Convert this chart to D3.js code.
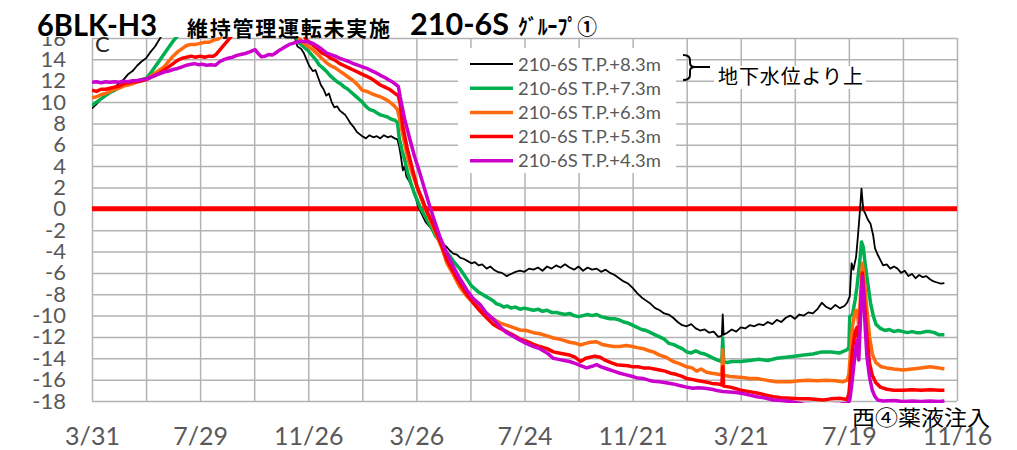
<!DOCTYPE html>
<html>
<head>
<meta charset="utf-8">
<script src="https://cdn.jsdelivr.net/npm/d3@7"></script>
<style>
  html, body { margin: 0; padding: 0; background: #fff; }
  svg { display: block; }
</style>
</head>
<body>
<svg id="chart" width="1017" height="450"></svg>
<script>
// ---------------- DATA ----------------
const startDate = "2016-03-31";
const endDate = "2018-11-16";
const xTickDays = [0, 60, 120, 180, 240, 300, 360, 420, 480, 540, 600, 660, 720, 780, 840, 900, 960];
const xLabels = ["3/31", "7/29", "11/26", "3/26", "7/24", "11/21", "3/21", "7/19", "11/16"];
const yTicks = [-18, -16, -14, -12, -10, -8, -6, -4, -2, 0, 2, 4, 6, 8, 10, 12, 14, 16];
const yLabels = ["-18", "-16", "-14", "-12", "-10", "-8", "-6", "-4", "-2", "0", "2", "4", "6", "8", "10", "12", "14", "16"];
const seriesNames = ["210-6S T.P.+8.3m", "210-6S T.P.+7.3m", "210-6S T.P.+6.3m", "210-6S T.P.+5.3m", "210-6S T.P.+4.3m"];

// [day offset from startDate, value]
const tp83 = [[0,9.4],[5,9.8],[10,10.3],[15,10.6],[20,11.0],[25,11.3],[30,11.8],[35,12.1],[40,12.6],[45,12.9],[50,13.4],[55,13.8],[60,14.1],[65,14.7],[70,15.2],[75,15.9],[80,16.6],[100,18],[150,19],[200,18.5],[222,17],[228,15.2],[232,15.0],[235,14.6],[238,14.0],[241,13.4],[245,12.9],[248,13.0],[251,12.3],[254,11.6],[257,11.2],[260,10.6],[263,10.8],[266,10.0],[269,9.5],[272,9.6],[275,9.2],[278,9.0],[281,8.8],[284,8.4],[287,8.0],[290,7.7],[294,7.2],[297,7.0],[300,6.8],[304,6.6],[308,6.9],[312,6.7],[316,6.8],[320,6.6],[324,6.9],[328,6.7],[332,6.8],[336,6.6],[339,6.5],[341,5.8],[343,4.8],[345,3.6],[347,4.0],[349,3.0],[352,2.6],[356,1.8],[360,0.8],[362,0.2],[366,-0.5],[370,-1.2],[374,-1.6],[378,-2.0],[383,-2.6],[386,-2.9],[390,-3.3],[394,-3.6],[397,-3.9],[401,-4.2],[405,-4.3],[409,-4.6],[413,-4.7],[417,-4.9],[421,-5.1],[425,-5.0],[429,-5.3],[433,-5.2],[438,-5.6],[442,-5.4],[446,-5.7],[450,-5.9],[455,-6.0],[460,-6.3],[465,-6.1],[470,-5.9],[475,-5.8],[480,-5.9],[485,-5.6],[490,-5.7],[495,-5.5],[500,-5.8],[505,-5.4],[510,-5.6],[515,-5.3],[520,-5.5],[525,-5.2],[530,-5.5],[535,-5.7],[540,-5.4],[545,-5.8],[550,-5.5],[555,-5.7],[560,-5.6],[565,-5.9],[570,-5.7],[575,-6.0],[580,-6.2],[585,-6.5],[590,-6.8],[595,-7.0],[600,-7.4],[605,-7.9],[610,-8.3],[615,-8.6],[620,-8.9],[625,-9.3],[630,-9.5],[635,-9.8],[640,-9.9],[645,-10.2],[650,-10.6],[655,-10.9],[660,-11.0],[665,-10.8],[670,-11.2],[675,-11.4],[680,-11.3],[685,-11.6],[690,-11.5],[695,-12.0],[699,-11.9],[700,-9.9],[701,-11.8],[705,-11.6],[710,-11.3],[715,-11.5],[720,-11.1],[725,-11.2],[730,-10.9],[735,-11.0],[740,-10.8],[745,-10.9],[750,-10.6],[755,-10.8],[760,-10.4],[765,-10.6],[770,-10.2],[775,-10.0],[780,-10.3],[785,-9.9],[790,-10.0],[795,-9.7],[800,-9.8],[805,-9.4],[810,-8.8],[815,-9.2],[820,-9.4],[825,-9.0],[830,-9.3],[835,-9.1],[838,-8.8],[841,-8.2],[843,-5.1],[845,-5.7],[848,-4.5],[850,-2.6],[852,-0.5],[854,1.9],[856,-0.1],[858,-0.4],[861,-1.0],[864,-1.4],[867,-2.5],[869,-3.7],[872,-4.3],[875,-4.8],[878,-5.3],[882,-5.2],[886,-5.6],[890,-5.4],[894,-5.6],[898,-6.0],[902,-5.8],[906,-6.3],[910,-6.1],[914,-6.5],[918,-6.2],[922,-6.4],[926,-6.3],[930,-6.6],[934,-6.8],[938,-6.9],[942,-7.0],[946,-6.95]];

const tp73 = [[0,9.7],[5,10.0],[10,10.3],[15,10.6],[20,10.9],[25,11.1],[30,11.4],[35,11.6],[40,11.7],[45,11.9],[50,12.0],[55,12.1],[60,12.2],[65,12.7],[70,13.3],[75,13.9],[80,14.5],[85,15.1],[90,15.7],[94,16.1],[100,16.8],[150,18],[200,18],[225,16.5],[229,15.6],[232,15.4],[236,15.1],[240,14.8],[244,14.4],[248,14.0],[252,13.5],[256,13.2],[260,12.9],[264,12.5],[268,12.2],[272,11.9],[276,11.7],[280,11.4],[284,11.2],[288,10.9],[292,10.6],[296,10.3],[300,10.0],[304,9.6],[308,9.3],[312,9.2],[316,9.0],[320,8.8],[324,8.7],[328,8.6],[332,8.4],[336,8.3],[339,8.1],[341,6.6],[344,5.5],[347,4.6],[350,3.5],[354,2.4],[358,1.4],[361,0.8],[365,0.0],[369,-0.6],[373,-1.2],[377,-1.8],[381,-2.5],[385,-2.9],[389,-3.5],[393,-4.0],[397,-4.4],[401,-4.9],[405,-5.3],[409,-5.7],[413,-6.2],[417,-6.7],[421,-7.2],[425,-7.5],[429,-7.8],[433,-8.0],[437,-8.2],[441,-8.4],[445,-8.6],[449,-8.9],[453,-9.0],[457,-9.2],[461,-9.1],[465,-9.3],[470,-9.2],[475,-9.4],[480,-9.3],[485,-9.4],[490,-9.5],[495,-9.4],[500,-9.6],[505,-9.5],[510,-9.7],[515,-9.7],[520,-9.8],[525,-9.9],[530,-9.8],[535,-10.0],[540,-10.1],[545,-10.0],[550,-9.9],[555,-10.0],[560,-9.9],[565,-10.1],[570,-10.2],[575,-10.3],[580,-10.3],[585,-10.4],[590,-10.6],[595,-10.7],[600,-10.9],[605,-11.1],[610,-11.3],[615,-11.4],[620,-11.6],[625,-11.8],[630,-12.0],[635,-12.2],[640,-12.6],[645,-12.7],[650,-12.9],[655,-13.1],[660,-13.4],[665,-13.5],[670,-13.3],[675,-13.5],[680,-13.6],[685,-13.8],[690,-14.0],[695,-14.2],[699,-14.3],[700,-12.1],[701,-14.3],[705,-14.4],[710,-14.3],[720,-14.3],[730,-14.2],[740,-14.1],[750,-14.2],[760,-14.0],[770,-13.9],[780,-13.8],[790,-13.7],[800,-13.6],[810,-13.4],[820,-13.4],[830,-13.5],[838,-13.2],[840,-13.0],[841,-10.1],[844,-9.9],[847,-8.5],[849,-7.3],[852,-5.0],[854,-3.1],[856,-3.6],[858,-5.1],[861,-7.0],[864,-8.8],[867,-10.0],[870,-10.8],[875,-11.2],[880,-11.4],[885,-11.3],[890,-11.5],[895,-11.4],[900,-11.5],[905,-11.6],[910,-11.5],[915,-11.6],[920,-11.6],[925,-11.5],[930,-11.5],[935,-11.6],[940,-11.8],[946,-11.8]];

const tp63 = [[0,10.4],[5,10.5],[10,10.7],[15,10.8],[20,11.0],[25,11.2],[30,11.3],[35,11.5],[40,11.6],[45,11.7],[50,11.9],[55,12.0],[60,12.1],[65,12.4],[70,12.7],[75,13.0],[80,13.3],[85,13.8],[90,14.3],[95,14.7],[100,15.0],[105,15.3],[110,15.4],[115,15.4],[120,15.5],[125,15.6],[130,15.6],[135,15.8],[140,15.9],[144,16.2],[150,17],[200,17.5],[228,16.3],[231,15.8],[235,15.5],[240,15.2],[245,14.9],[250,14.5],[255,14.1],[260,13.7],[265,13.4],[270,13.2],[275,12.9],[280,12.6],[285,12.3],[290,12.0],[295,11.6],[300,11.1],[305,11.0],[310,10.8],[316,10.6],[320,10.5],[327,10.2],[332,9.9],[336,9.6],[339,9.3],[342,8.2],[346,6.5],[350,4.9],[355,3.4],[361,2.0],[366,0.8],[372,-0.4],[377,-1.4],[383,-2.6],[388,-3.6],[394,-5.1],[400,-6.0],[408,-7.3],[415,-8.1],[423,-8.8],[430,-9.3],[438,-9.8],[445,-10.3],[453,-10.7],[460,-10.9],[467,-11.1],[475,-11.35],[482,-11.4],[490,-11.6],[497,-11.7],[505,-11.9],[512,-12.1],[518,-12.2],[523,-12.3],[530,-12.5],[537,-12.6],[542,-12.75],[548,-12.6],[553,-12.5],[560,-12.45],[566,-12.7],[572,-12.8],[579,-12.9],[586,-12.9],[593,-12.8],[600,-12.9],[605,-13.0],[612,-13.1],[618,-13.3],[623,-13.4],[630,-13.7],[637,-13.9],[645,-14.3],[652,-14.5],[660,-14.8],[666,-14.9],[671,-15.2],[676,-15.0],[682,-15.3],[688,-15.4],[695,-15.5],[699,-15.55],[700,-13.2],[701,-15.6],[708,-15.7],[715,-15.75],[722,-15.8],[730,-15.9],[738,-15.9],[745,-16.0],[752,-16.1],[760,-16.2],[768,-16.2],[775,-16.2],[785,-16.1],[795,-16.05],[805,-16.1],[815,-16.05],[825,-16.1],[833,-16.2],[838,-16.05],[840,-15.5],[841,-14.4],[844,-11.0],[847,-9.6],[849,-9.5],[851,-11.0],[853,-8.0],[855,-5.1],[857,-6.5],[860,-9.5],[863,-12.0],[866,-13.6],[870,-14.4],[876,-14.8],[882,-14.9],[890,-15.0],[900,-15.1],[910,-15.0],[920,-14.9],[930,-14.8],[940,-14.9],[946,-15.0]];

const tp53 = [[0,11.1],[5,11.0],[10,11.2],[15,11.2],[20,11.3],[25,11.4],[30,11.5],[35,11.7],[40,11.8],[45,11.9],[50,11.9],[55,12.0],[60,12.1],[65,12.3],[70,12.5],[75,12.7],[80,13.0],[85,13.3],[90,13.6],[95,13.9],[100,14.1],[105,14.2],[110,14.3],[115,14.2],[120,14.3],[125,14.2],[130,14.3],[135,14.3],[138,14.5],[141,14.8],[144,15.1],[148,15.5],[152,15.9],[155,16.2],[170,17],[220,17],[236,16.2],[238,15.8],[241,15.6],[245,15.35],[250,15.0],[255,14.6],[260,14.4],[265,14.1],[270,13.9],[275,13.6],[280,13.4],[285,13.2],[290,13.0],[295,12.8],[300,12.6],[305,12.4],[310,12.2],[315,11.9],[320,11.6],[325,11.4],[330,11.2],[334,10.95],[338,10.7],[340,10.6],[342,9.8],[345,7.7],[350,5.6],[356,3.6],[361,2.0],[367,0.8],[372,-0.3],[378,-1.35],[386,-3.0],[394,-4.8],[401,-5.9],[408,-6.95],[415,-7.9],[423,-8.8],[430,-9.5],[438,-10.2],[445,-10.8],[453,-11.2],[460,-11.5],[467,-11.8],[475,-12.2],[482,-12.4],[490,-12.7],[497,-12.9],[505,-13.1],[512,-13.4],[518,-13.5],[524,-13.6],[530,-13.7],[536,-13.9],[542,-14.3],[548,-14.0],[553,-13.9],[558,-13.8],[564,-13.9],[570,-14.2],[576,-14.4],[582,-14.6],[588,-14.65],[595,-14.7],[600,-14.8],[606,-14.8],[612,-14.9],[618,-14.9],[624,-15.0],[630,-15.1],[636,-15.2],[642,-15.4],[648,-15.5],[655,-15.7],[660,-15.9],[667,-16.0],[673,-16.1],[680,-16.2],[688,-16.35],[695,-16.4],[699,-16.5],[700,-14.8],[701,-16.6],[708,-16.7],[715,-16.85],[720,-17.0],[728,-17.1],[738,-17.25],[746,-17.4],[756,-17.6],[765,-17.7],[775,-17.75],[785,-17.8],[795,-17.8],[805,-17.85],[812,-17.9],[820,-17.8],[830,-17.75],[838,-17.85],[840,-17.3],[841,-16.4],[844,-13.2],[847,-11.5],[849,-11.1],[851,-12.6],[853,-9.0],[855,-6.0],[857,-8.5],[860,-12.0],[863,-14.5],[866,-15.6],[870,-16.3],[875,-16.7],[882,-16.9],[890,-17.0],[900,-17.0],[910,-16.95],[920,-17.0],[930,-16.95],[940,-17.0],[946,-17.0]];

const tp43 = [[0,11.85],[5,11.9],[10,11.8],[15,11.9],[20,11.85],[25,11.9],[30,11.85],[35,11.95],[40,11.9],[45,12.0],[50,12.0],[55,12.1],[60,12.15],[65,12.3],[70,12.5],[75,12.65],[80,12.8],[85,12.9],[90,13.05],[95,13.15],[100,13.3],[105,13.45],[110,13.55],[114,13.6],[118,13.5],[122,13.55],[127,13.45],[132,13.5],[137,13.45],[142,13.8],[147,14.0],[151,14.1],[156,14.2],[160,14.35],[165,14.45],[170,14.55],[175,14.7],[181,14.9],[185,14.5],[188,14.25],[192,14.3],[196,14.45],[200,14.4],[203,14.55],[207,14.8],[211,15.0],[215,15.2],[219,15.4],[223,15.5],[228,15.65],[233,15.7],[238,15.65],[242,15.6],[245,15.5],[248,15.35],[251,15.2],[255,14.95],[258,14.75],[261,14.55],[265,14.45],[270,14.3],[275,14.1],[280,13.95],[285,13.8],[290,13.6],[295,13.45],[300,13.3],[305,13.15],[310,12.95],[315,12.75],[320,12.5],[325,12.3],[330,12.05],[334,11.85],[338,11.6],[340,11.45],[342,10.5],[347,8.4],[353,6.45],[358,4.9],[364,3.3],[370,1.6],[375,0.2],[380,-1.1],[386,-2.6],[393,-4.0],[401,-5.4],[408,-6.5],[416,-7.6],[423,-8.4],[431,-9.0],[438,-9.8],[445,-10.3],[453,-11.05],[460,-11.6],[467,-11.9],[475,-12.3],[482,-12.6],[490,-12.9],[497,-13.1],[505,-13.5],[512,-14.0],[518,-14.1],[524,-14.2],[530,-14.3],[537,-14.5],[543,-14.7],[549,-14.9],[555,-14.75],[560,-14.6],[565,-14.8],[572,-15.0],[579,-15.2],[586,-15.4],[593,-15.55],[600,-15.7],[605,-15.85],[612,-15.9],[618,-16.05],[623,-16.15],[630,-16.2],[637,-16.3],[645,-16.4],[652,-16.55],[660,-16.7],[667,-16.8],[673,-16.75],[680,-16.8],[688,-16.9],[695,-17.05],[700,-17.1],[708,-17.15],[715,-17.2],[722,-17.3],[730,-17.45],[738,-17.6],[746,-17.7],[756,-17.9],[765,-17.95],[775,-18.05],[790,-18.3],[810,-18.4],[830,-18.3],[839,-18.2],[841,-17.9],[843,-16.6],[845,-15.1],[847,-13.5],[849,-12.3],[851,-14.15],[853,-10.0],[855,-6.35],[857,-9.5],[860,-13.85],[863,-15.8],[866,-17.0],[869,-17.6],[872,-17.9],[878,-18.0],[890,-17.95],[900,-18.05],[910,-18.0],[920,-18.05],[930,-18.0],[940,-18.05],[946,-18.0]];

const seriesData = [tp83, tp73, tp63, tp53, tp43];
const seriesColors = ["#000000", "#00b050", "#ff6a0e", "#ff0000", "#cc00cc"];
const seriesWidths = [1.8, 3.5, 3.5, 3.5, 3.5];

// ---------------- CHART ----------------
const svg = d3.select("#chart");
const W = 1017, H = 450;
const m = { left: 92, right: 957, top: 38, bottom: 401 };
const labelFont = "Lato, 'Open Sans', 'Liberation Sans', sans-serif";
const cjkFont = "'Noto Sans CJK JP', 'Noto Sans CJK SC', sans-serif";

const t0 = d3.utcParse("%Y-%m-%d")(startDate);
const t1 = d3.utcParse("%Y-%m-%d")(endDate);
const toDate = d => d3.utcDay.offset(t0, d);

const x = d3.scaleUtc().domain([t0, t1]).range([m.left, m.right]);
const y = d3.scaleLinear().domain([-18, 16]).range([m.bottom, m.top]);

svg.append("rect").attr("width", W).attr("height", H).attr("fill", "#fff");

const gridColor = "#b3b3b3";
// horizontal gridlines
svg.append("g")
  .attr("transform", `translate(${m.left},0)`)
  .call(d3.axisLeft(y).tickValues(yTicks).tickSize(-(m.right - m.left)).tickFormat(""))
  .call(g => g.select(".domain").remove())
  .call(g => g.selectAll("line").attr("stroke", gridColor).attr("stroke-width", 1.5));
// vertical gridlines
const xGridDates = xTickDays.map(toDate);
svg.append("g")
  .attr("transform", `translate(0,${m.bottom})`)
  .call(d3.axisBottom(x).tickValues(xGridDates).tickSize(-(m.bottom - m.top)).tickFormat(""))
  .call(g => g.select(".domain").remove())
  .call(g => g.selectAll("line").attr("stroke", gridColor).attr("stroke-width", 1.5));

// y labels
svg.append("g")
  .attr("transform", `translate(${m.left},0)`)
  .call(d3.axisLeft(y).tickValues(yTicks).tickSize(0).tickPadding(26).tickFormat((d, i) => yLabels[i]))
  .call(g => g.select(".domain").remove())
  .call(g => g.selectAll("text").attr("fill", "#595959").style("font-family", labelFont).style("font-size", "22px"));

// x labels
const xLabelDates = xTickDays.filter((d, i) => i % 2 === 0).map(toDate);
svg.append("g")
  .attr("transform", `translate(0,${m.bottom})`)
  .call(d3.axisBottom(x).tickValues(xLabelDates).tickSize(0).tickFormat((d, i) => xLabels[i]))
  .call(g => g.select(".domain").remove())
  .call(g => g.selectAll("text").attr("fill", "#595959").attr("y", 44).attr("dy", 0)
      .style("font-family", labelFont).style("font-size", "25px"));

// zero line
svg.append("line")
  .attr("x1", m.left).attr("x2", m.right)
  .attr("y1", y(0)).attr("y2", y(0))
  .attr("stroke", "#ff0000").attr("stroke-width", 5);

// clip
svg.append("clipPath").attr("id", "plotclip")
  .append("rect").attr("x", m.left).attr("y", m.top - 1)
  .attr("width", m.right - m.left + 2).attr("height", m.bottom - m.top + 3);

const line = d3.line().x(d => x(toDate(d[0]))).y(d => y(d[1]));
const gLines = svg.append("g").attr("clip-path", "url(#plotclip)");
seriesData.forEach((data, i) => {
  gLines.append("path")
    .datum(data)
    .attr("fill", "none")
    .attr("stroke", seriesColors[i])
    .attr("stroke-width", seriesWidths[i])
    .attr("stroke-linejoin", "round")
    .attr("d", line);
});

// legend
const lg = svg.append("g");
lg.append("rect").attr("x", 458).attr("y", 48).attr("width", 218).attr("height", 125).attr("fill", "#fff");
seriesNames.forEach((name, i) => {
  const cy = 64 + i * 24.2;
  lg.append("line").attr("x1", 470).attr("x2", 513).attr("y1", cy).attr("y2", cy)
    .attr("stroke", seriesColors[i]).attr("stroke-width", i === 0 ? 2 : 3.5);
  lg.append("text").attr("x", 518).attr("y", cy + 6.5).text(name)
    .attr("fill", "#595959").style("font-family", labelFont).style("font-size", "17px")
    .attr("textLength", 143).attr("lengthAdjust", "spacingAndGlyphs");
});

// title area (white box)
svg.append("rect").attr("x", 30).attr("y", 0).attr("width", 575).attr("height", 37).attr("fill", "#fff");
svg.append("text").attr("x", 37).attr("y", 36).text("6BLK-H3")
  .style("font-family", labelFont).style("font-weight", "bold").style("font-size", "31px")
  .attr("textLength", 120).attr("lengthAdjust", "spacingAndGlyphs").attr("fill", "#000");
svg.append("text").attr("x", 187).attr("y", 35.5).text("維持管理運転未実施")
  .style("font-family", cjkFont).style("font-weight", "bold").style("font-size", "21px")
  .attr("textLength", 203).attr("lengthAdjust", "spacing").attr("fill", "#000");
svg.append("text").attr("x", 410).attr("y", 35).text("210-6S")
  .style("font-family", labelFont).style("font-weight", "bold").style("font-size", "31px")
  .attr("textLength", 99).attr("lengthAdjust", "spacingAndGlyphs").attr("fill", "#000");
svg.append("text").attr("x", 518).attr("y", 34).text("ｸﾞﾙｰﾌﾟ①")
  .style("font-family", cjkFont).style("font-weight", "bold").style("font-size", "21px")
  .attr("textLength", 79).attr("lengthAdjust", "spacingAndGlyphs").attr("fill", "#000");
svg.append("text").attr("x", 95).attr("y", 52).text("C")
  .style("font-family", labelFont).style("font-size", "22px").attr("fill", "#262626");

// bracket annotation
svg.append("path")
  .attr("d", "M683,55 Q690,55 690,60 L690,63 Q690,67 695,67 Q690,67 690,71 L690,75 Q690,80 683,80")
  .attr("fill", "none").attr("stroke", "#000").attr("stroke-width", 2);
svg.append("line").attr("x1", 695).attr("x2", 710).attr("y1", 67).attr("y2", 67)
  .attr("stroke", "#000").attr("stroke-width", 2);
svg.append("rect").attr("x", 714).attr("y", 66).attr("width", 152).attr("height", 23).attr("fill", "#fff");
svg.append("text").attr("x", 718).attr("y", 84).text("地下水位より上")
  .style("font-family", cjkFont).style("font-size", "20px")
  .attr("textLength", 145).attr("lengthAdjust", "spacing").attr("fill", "#000");

// bottom annotation
svg.append("text").attr("x", 852).attr("y", 425).text("西④薬液注入")
  .style("font-family", cjkFont).style("font-size", "21px")
  .attr("textLength", 138).attr("lengthAdjust", "spacingAndGlyphs").attr("fill", "#000");
</script>
</body>
</html>
